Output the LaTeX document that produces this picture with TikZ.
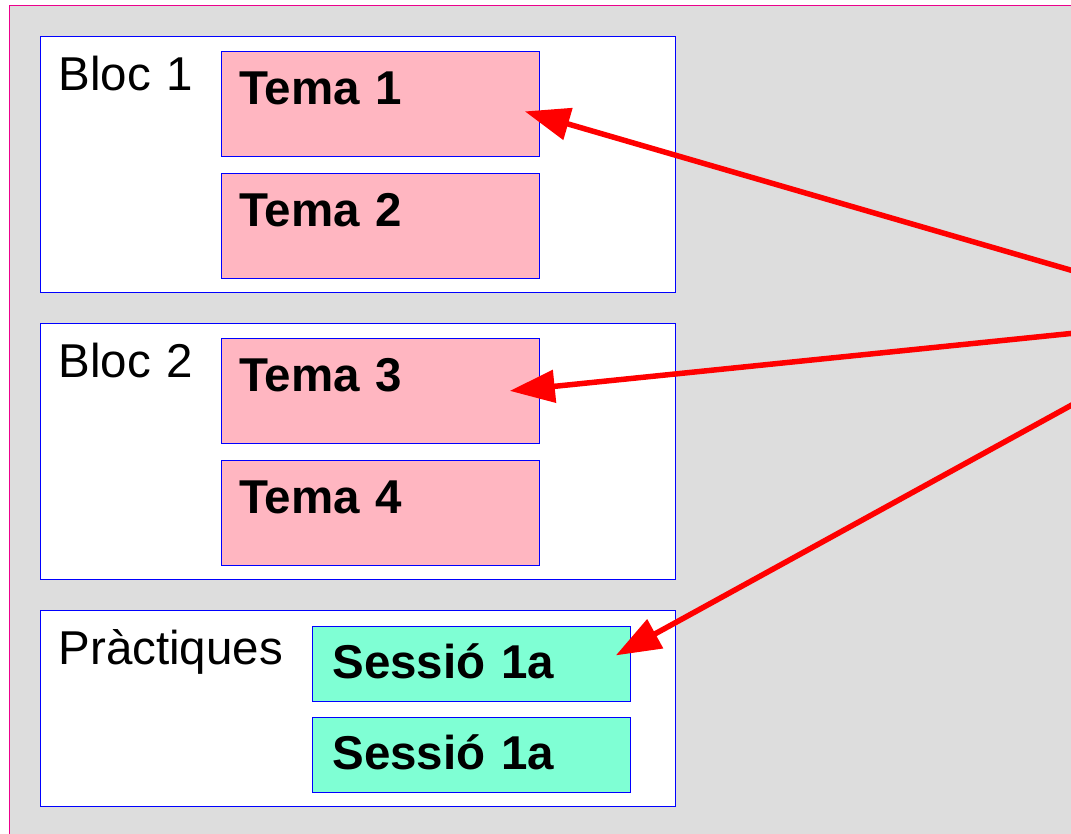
\documentclass[tikz,border=0pt]{standalone}
\usepackage{fontspec}
\setmainfont{Liberation Sans}
\usepackage{tikz}
\usetikzlibrary{positioning,arrows.meta,calc}

\definecolor{fons}{HTML}{DDDDDD}
\definecolor{rosa}{HTML}{FFB6C1}
\definecolor{aigua}{HTML}{7FFFD4}

\begin{document}
\begin{tikzpicture}[
      x=1pt, y=-1pt,
      font=\fontsize{47.5}{57}\selectfont
    ]

    \tikzstyle{bloc} = [rectangle, anchor=north west, draw=blue, line width=1pt, fill=white, inner xsep=18pt, inner ysep=0pt, text width=599pt, align=left, text height=54pt]

    \tikzstyle{tema} = [rectangle, anchor=north west, draw=blue, line width=0.8pt, fill=rosa, inner xsep=18pt, inner ysep=0pt, text width=282pt, align=left, text height=53pt, text depth=52pt, font=\fontsize{47.5}{57}\selectfont\bfseries]

    \tikzstyle{sessio} = [tema, fill=aigua, inner xsep=20pt, text width=278pt, text height=52pt, text depth=23pt]

    \tikzstyle{arrow} = [draw=red, line width=5.5pt, -{Triangle[length=45pt,width=32pt]}]

    \useasboundingbox (0,0) rectangle (1071,834);
    \draw [draw=magenta, line width=1.2pt, fill=fons] (9.5,5.5) rectangle (1200,900);

    \node [bloc, text depth=202pt] (blocOne) at (40,36) {Bloc 1};
    \node [bloc, text depth=202pt] (blocTwo) at (40,323) {Bloc 2};
    \node [bloc, text depth=142pt] (practiques) at (40,610) {Pràctiques};

    \node [tema] (temaOne) at (221,51) {Tema 1};
    \node [tema, anchor=north, node distance=16pt, below=of temaOne] (temaTwo) {Tema 2};
    \node [tema] (temaThree) at (221,338) {Tema 3};
    \node [tema, anchor=north, node distance=16pt, below=of temaThree] (temaFour) {Tema 4};

    \node [sessio] (sessioOne) at (312,626) {Sessió 1a};
    \node [sessio, anchor=north, node distance=15pt, below=of sessioOne] (sessioTwo) {Sessió 1a};

    \coordinate (origen) at (1232,317);

    \draw [arrow] (origen) -- ($(temaOne.east)+(-15,7.5)$);
    \draw [arrow] (origen) -- ($(temaThree.east)+(-30,0)$);
    \draw [arrow] (origen) -- ($(sessioOne.east)+(-15,-8.5)$);

\end{tikzpicture}
\end{document}
